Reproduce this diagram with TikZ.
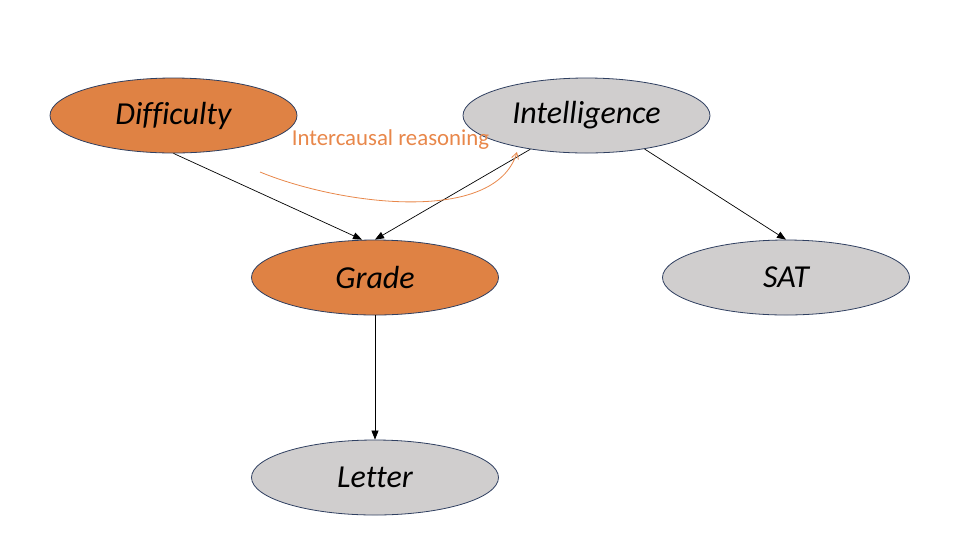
\documentclass[tikz,border=0pt]{standalone}
\usepackage{fontspec}
\setmainfont{Carlito}[Ligatures=NoCommon]
\usetikzlibrary{shapes.geometric,arrows.meta}
\definecolor{nodeorange}{HTML}{DF8244}
\definecolor{nodegrey}{HTML}{D0CECE}
\definecolor{nodeborder}{HTML}{2F3F60}
\definecolor{labelorange}{HTML}{E8874A}
\tikzset{
  bnode/.style={ellipse, draw=nodeborder, line width=0.8pt, minimum width=247pt, minimum height=75pt, inner sep=0pt, font=\fontsize{32}{36}\selectfont\itshape},
  evid/.style={bnode, fill=nodeorange},
  hidden/.style={bnode, fill=nodegrey},
  edge/.style={-{Triangle[length=9pt,width=7pt]}, line width=0.7pt, black},
  reason/.style={-{Straight Barb[length=6pt,width=7pt]}, labelorange, line width=0.8pt}
}
\begin{document}
\begin{tikzpicture}[x=1pt,y=-1pt]
\useasboundingbox (0,0) rectangle (974,550);
\node[evid] (D) at (173.5,115.5) {Difficulty};
\node[hidden] (I) at (586.5,115.5) {Intelligence};
\node[evid] (G) at (375,277.5) {Grade};
\node[hidden] (S) at (786,277.5) {SAT};
\node[hidden] (L) at (375,477.5) {Letter};
\node[text=labelorange, font=\fontsize{22.8}{26}\selectfont] (R) at (390.5,140) {Intercausal reasoning};
\draw[edge] (D.south) -- ([xshift=-13pt]G.north);
\draw[edge] (I.211) -- (G.north);
\draw[edge] (I.330) -- (S.north);
\draw[edge] (G.south) -- (L.north);
\coordinate (rs) at (260,172);
\coordinate (re) at (517,152);
\draw[reason] (rs) .. controls (340,205) and (495,225) .. (re);
\end{tikzpicture}
\end{document}
